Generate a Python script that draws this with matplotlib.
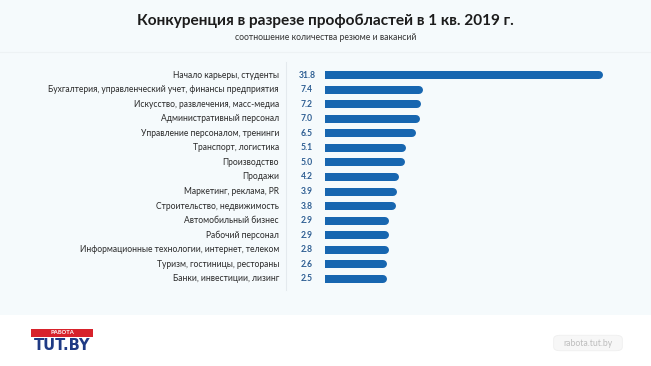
import numpy as np
import matplotlib
matplotlib.use("Agg")
import matplotlib.pyplot as plt
import matplotlib.transforms as mtransforms
from matplotlib.patches import Rectangle, FancyBboxPatch

# -----------------------------------------------------------------------
# Data
# -----------------------------------------------------------------------
categories = [
    "Начало карьеры, студенты",
    "Бухгалтерия, управленческий учет, финансы предприятия",
    "Искусство, развлечения, масс-медиа",
    "Административный персонал",
    "Управление персоналом, тренинги",
    "Транспорт, логистика",
    "Производство",
    "Продажи",
    "Маркетинг, реклама, PR",
    "Строительство, недвижимость",
    "Автомобильный бизнес",
    "Рабочий персонал",
    "Информационные технологии, интернет, телеком",
    "Туризм, гостиницы, рестораны",
    "Банки, инвестиции, лизинг",
]
values = [31.8, 7.4, 7.2, 7.0, 6.5, 5.1, 5.0, 4.2, 3.9, 3.8, 2.9, 2.9, 2.8, 2.6, 2.5]

title = "Конкуренция в разрезе профобластей в 1 кв. 2019 г."
subtitle = "соотношение количества резюме и вакансий"

# -----------------------------------------------------------------------
# Styling
# -----------------------------------------------------------------------
W, H, DPI = 651, 366, 100
BG = "#f5fafc"
BAR = "#1766b0"
VAL = "#2f5f93"
TXT = "#2a2a2a"
plt.rcParams["font.family"] = ["Lato", "DejaVu Sans"]

PX_PER_UNIT = 7.4          # horizontal scale of bars
ZERO_PX = 368              # pixel x of value 0
AX_L, AX_R = 325, 610      # axes extent in pixels
ROW0, ROW_STEP = 75, 14.57
AX_T, AX_B = 62, 292

fig = plt.figure(figsize=(W / DPI, H / DPI), dpi=DPI, facecolor="white")

# background panel + faint divider
fig.patches.append(Rectangle((0, 1 - 315 / H), 1, 315 / H, transform=fig.transFigure,
                             fc=BG, ec="none", zorder=-10))
fig.add_artist(plt.Line2D([0, 1], [1 - 52 / H] * 2, transform=fig.transFigure,
                          color="#edf2f4", lw=0.8))

fig.text(0.5, 1 - 21 / H, title, ha="center", va="center", fontsize=11.1,
         fontweight="bold", color="#1c1c1c")
fig.text(0.5, 1 - 37 / H, subtitle, ha="center", va="center", fontsize=6.2,
         color="#333333")

ax = fig.add_axes([AX_L / W, 1 - AX_B / H, (AX_R - AX_L) / W, (AX_B - AX_T) / H])
ax.set_facecolor("none")
x_left = (AX_L - ZERO_PX) / PX_PER_UNIT
x_right = (AX_R - ZERO_PX) / PX_PER_UNIT
ax.set_xlim(x_left, x_right)
ax.set_ylim((AX_B - ROW0) / ROW_STEP, (AX_T - ROW0) / ROW_STEP)
ax.axis("off")

lw_px = 8.0
cap = lw_px / 2 / PX_PER_UNIT
y = np.arange(len(values))
for yi, v in zip(y, values):
    ax.plot([x_left - 1, v - cap], [yi, yi], color=BAR, lw=lw_px * 72 / DPI,
            solid_capstyle="round")

tr = mtransforms.blended_transform_factory(fig.transFigure, ax.transData)
for yi, cat, v in zip(y, categories, values):
    fig.text(279 / W, yi, cat, transform=tr, ha="right", va="center",
             fontsize=6.15, color=TXT)
    fig.text(307 / W, yi, f"{v:.1f}", transform=tr, ha="center", va="center",
             fontsize=6.2, fontweight="bold", color=VAL)

# separator
fig.add_artist(plt.Line2D([286 / W] * 2, [1 - 62 / H, 1 - 290 / H],
                          transform=fig.transFigure, color="#e4eaee", lw=0.8))

# logo
fig.patches.append(Rectangle((31 / W, 1 - 337 / H), 62 / W, 8 / H,
                             transform=fig.transFigure, fc="#d7222b", ec="none"))
fig.text(62 / W, 1 - 333 / H, "РАБОТА", ha="center", va="center",
         fontsize=4.2, color="white", fontweight="bold")
fig.text(62 / W, 1 - 346 / H, "TUT.BY", ha="center", va="center",
         fontsize=10.5, color="#1f3a84", fontweight="heavy",
         family=["DejaVu Sans"])

# site tag
fig.patches.append(FancyBboxPatch((555 / W, 1 - 350 / H), 66 / W, 14 / H,
                                  boxstyle="round,pad=0.002,rounding_size=0.01",
                                  transform=fig.transFigure, fc="#f7f7f7",
                                  ec="#efefef", lw=0.6))
fig.text(588 / W, 1 - 343 / H, "rabota.tut.by", ha="center", va="center",
         fontsize=6.2, color="#bdbdbd")

fig.savefig("out.png", dpi=DPI, facecolor=fig.get_facecolor())
